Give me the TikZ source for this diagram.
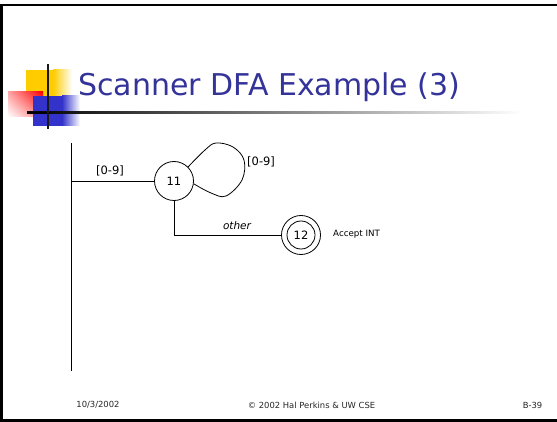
\documentclass[tikz,border=0pt]{standalone}
\usepackage{fontspec}
\setmainfont{DejaVu Sans}
\usetikzlibrary{shadings}
\definecolor{titleblue}{HTML}{333399}
\definecolor{sqyellow}{HTML}{FFCC00}
\definecolor{sqred}{HTML}{FF0000}
\definecolor{sqblue}{HTML}{3333CC}
\begin{document}
\begin{tikzpicture}[x=1pt,y=-1pt,
  state/.style={draw, circle, minimum size=39pt, inner sep=0pt, line width=0.8pt, font=\fontsize{11.5}{13}\selectfont},
  conn/.style={line width=0.8pt},
  lbl/.style={inner sep=0pt, font=\fontsize{11.5}{13}\selectfont},
  foot/.style={inner sep=0pt, font=\fontsize{8.4}{10}\selectfont, text=black!85},
  frame/.style={line width=2.5pt, black}]
\useasboundingbox (0,0) rectangle (557,422);
% frame
\draw[frame] (0,5) -- (557,5);
\draw[frame] (1.5,5) -- (1.5,420.5);
\draw[frame] (0,420.5) -- (557,420.5);
% decoration
\fill[sqyellow] (26,70) rectangle (53,104);
\shade[left color=sqyellow, right color=white] (53,70) rectangle (72,104);
\shade[upper right=sqred, upper left=sqred!35!white, lower right=sqred!45!white, lower left=white] (8,92) rectangle (43,117);
\fill[sqblue] (33,96) rectangle (62,126);
\shade[left color=sqblue, right color=white] (62,96) rectangle (80,126);
\shade[left color=black, right color=white] (27,111.6) rectangle (523,114);
\fill[black] (27,111.6) rectangle (50,114);
\draw[line width=2pt, black!90] (48,64) -- (48,129);
% title
\node[anchor=base west, inner sep=0pt, text=titleblue, font=\fontsize{30}{36}\selectfont] (title) at (78,96) {Scanner DFA Example (3)};
% diagram
\coordinate (vt) at (71,143);
\coordinate (vb) at (71,371);
\coordinate (vs) at (71,181);
\draw[conn] (vt) -- (vb);
\node[state] (n11) at (174,181) {11};
\node[state] (n12) at (301,235) {12};
\draw[line width=0.8pt] (n12.center) circle[radius=14];
\draw[conn] (vs) -- (n11.west);
\draw[conn] (n11.south) |- (n12.west);
\draw[conn] plot[smooth, tension=0.6] coordinates {(n11.45) (205,150) (216,143) (233,147) (244,160) (242,180) (226,196) (211,193) (n11.-8)};
\node[lbl] (l1) at (110,171) {[0-9]};
\node[lbl, anchor=west] (l2) at (247,162) {[0-9]};
\node[lbl, font=\fontsize{10.5}{12}\selectfont\itshape] (lo) at (237,226) {other};
\node[inner sep=0pt, anchor=west, font=\fontsize{8.7}{10}\selectfont] (acc) at (333,234) {Accept INT};
% footer
\node[foot] (f1) at (98,405) {10/3/2002};
\node[foot] (f2) at (311.5,405) {© 2002 Hal Perkins \& UW CSE};
\node[foot] (f3) at (532.5,405) {B-39};
\end{tikzpicture}
\end{document}
